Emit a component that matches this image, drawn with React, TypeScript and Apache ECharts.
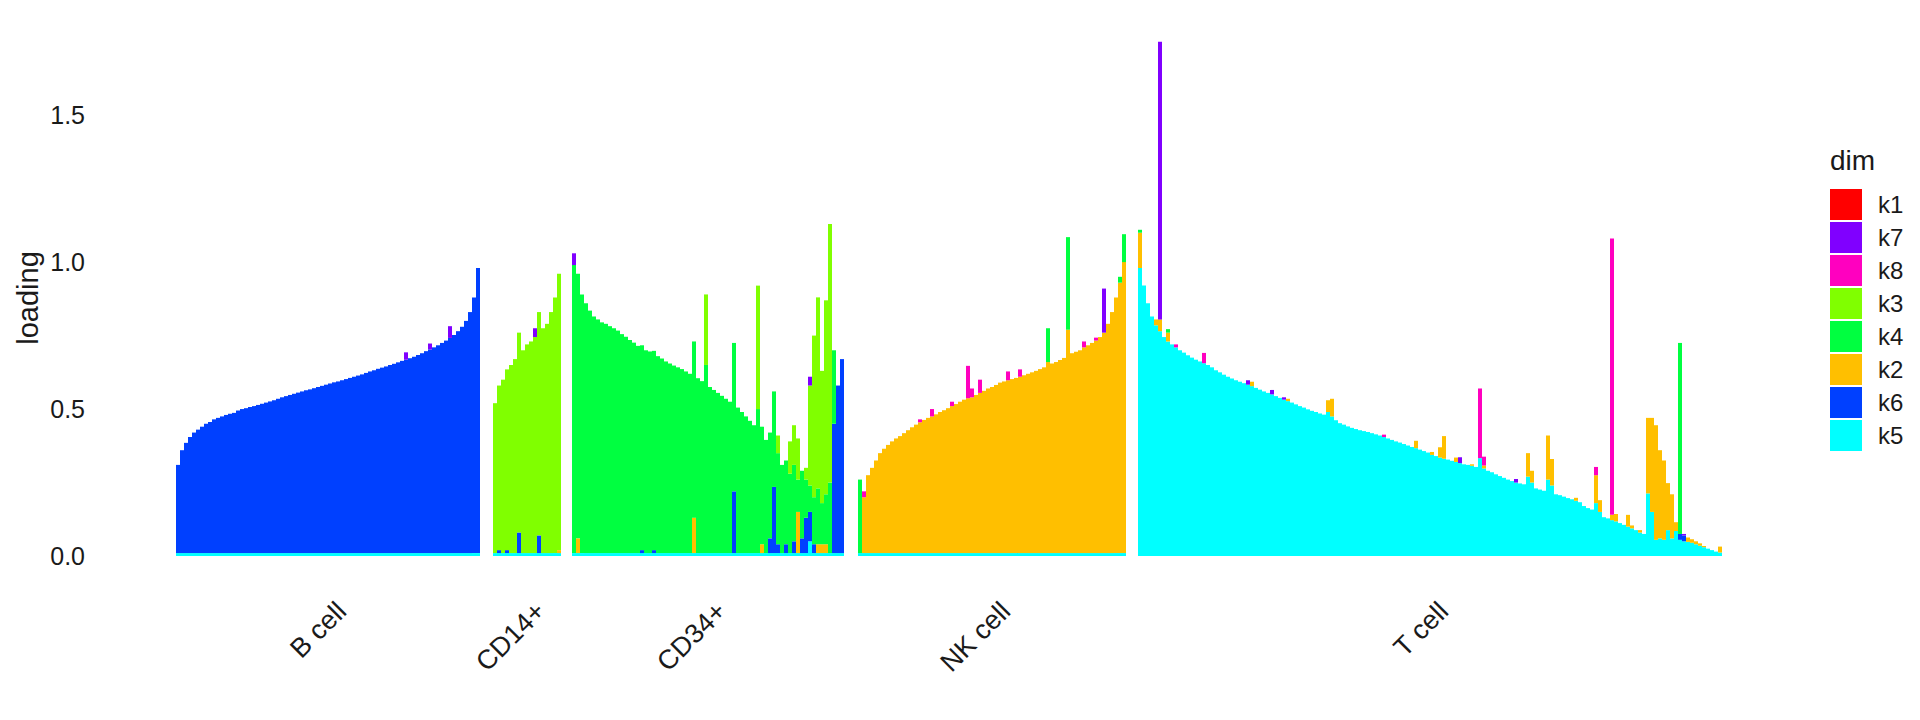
import React, { useEffect, useRef } from 'react';
import * as echarts from 'echarts';

// legend order; ggplot stacks the first level on top
const factors = ['k1', 'k7', 'k8', 'k3', 'k4', 'k2', 'k6', 'k5'];
const factorColors: Record<string, string> = {
  k1: '#FF0000',
  k7: '#8000FF',
  k8: '#FF00BF',
  k3: '#80FF00',
  k4: '#00FF40',
  k2: '#FFBF00',
  k6: '#0040FF',
  k5: '#00FFFF',
};
const cellTypes = ['B cell', 'CD14+', 'CD34+', 'NK cell', 'T cell'];
const mainFactor = ['k6', 'k3', 'k4', 'k2', 'k5'];
const yTicks = [0, 0.5, 1.0, 1.5];
const yMax = 1.8;

// thin cyan (k5) floor under every bar outside the T cell panel
const baseK5 = 0.01;

const bCellK6 = [
  0.30, 0.35, 0.375, 0.395, 0.41, 0.42, 0.43, 0.44, 0.446, 0.455,
  0.46, 0.465, 0.47, 0.474, 0.477, 0.485, 0.49, 0.493, 0.497, 0.50,
  0.504, 0.508, 0.512, 0.516, 0.52, 0.525, 0.53, 0.534, 0.538, 0.542,
  0.546, 0.55, 0.554, 0.557, 0.561, 0.565, 0.569, 0.573, 0.577, 0.581,
  0.584, 0.588, 0.592, 0.596, 0.60, 0.604, 0.608, 0.613, 0.618, 0.622,
  0.627, 0.631, 0.635, 0.64, 0.644, 0.649, 0.654, 0.658, 0.663, 0.668,
  0.674, 0.68, 0.687, 0.693, 0.70, 0.707, 0.715, 0.723, 0.732, 0.742,
  0.755, 0.77, 0.79, 0.82, 0.87, 0.97,
];
const cd14K3 = [0.51, 0.56, 0.59, 0.615, 0.64, 0.66, 0.68, 0.69, 0.71, 0.72, 0.735, 0.76, 0.765, 0.78, 0.82, 0.87, 0.94];
const cd34K4 = [
  0.98, 0.90, 0.88, 0.85, 0.825, 0.805, 0.795, 0.785, 0.78, 0.772,
  0.765, 0.757, 0.745, 0.736, 0.725, 0.716, 0.705, 0.697, 0.69, 0.686,
  0.678, 0.67, 0.662, 0.652, 0.645, 0.638, 0.632, 0.626, 0.618, 0.61,
  0.60, 0.595, 0.585, 0.64, 0.565, 0.555, 0.545, 0.535, 0.525, 0.515,
  0.505, 0.495, 0.48, 0.465, 0.45, 0.435, 0.49, 0.40, 0.385, 0.36,
  0.325, 0.31, 0.30, 0.285, 0.27, 0.26, 0.11, 0.23, 0.13, 0.09,
  0.16, 0.19, 0.14, 0.17, 0.24, 0.25, 0, 0,
];
const nkK2 = [
  0, 0.19, 0.265, 0.29, 0.315, 0.34, 0.355, 0.368, 0.38, 0.39,
  0.398, 0.408, 0.418, 0.428, 0.437, 0.445, 0.453, 0.46, 0.465, 0.472,
  0.48, 0.486, 0.493, 0.50, 0.507, 0.515, 0.522, 0.527, 0.53, 0.538,
  0.545, 0.552, 0.56, 0.565, 0.572, 0.58, 0.584, 0.588, 0.592, 0.596,
  0.60, 0.605, 0.61, 0.615, 0.62, 0.626, 0.632, 0.65, 0.645, 0.65,
  0.657, 0.664, 0.76, 0.68, 0.685, 0.69, 0.70, 0.707, 0.715, 0.723,
  0.735, 0.75, 0.78, 0.82, 0.87, 0.92, 0.99,
];
const tCellK5 = [
  0.98, 0.92, 0.86, 0.815, 0.785, 0.765, 0.745, 0.73, 0.72, 0.71,
  0.70, 0.692, 0.683, 0.675, 0.668, 0.662, 0.656, 0.65, 0.642, 0.632,
  0.625, 0.617, 0.61, 0.604, 0.598, 0.593, 0.588, 0.583, 0.578, 0.572,
  0.566, 0.56, 0.555, 0.55, 0.544, 0.538, 0.532, 0.527, 0.522, 0.516,
  0.51, 0.505, 0.499, 0.494, 0.49, 0.485, 0.481, 0.49, 0.475, 0.462,
  0.452, 0.447, 0.441, 0.436, 0.432, 0.428, 0.425, 0.422, 0.418, 0.414,
  0.41, 0.405, 0.40, 0.395, 0.39, 0.386, 0.381, 0.376, 0.371, 0.367,
  0.362, 0.357, 0.352, 0.344, 0.34, 0.335, 0.331, 0.328, 0.324, 0.32,
  0.316, 0.312, 0.31, 0.307, 0.303, 0.333, 0.298, 0.29, 0.285, 0.278,
  0.272, 0.266, 0.26, 0.255, 0.25, 0.247, 0.244, 0.27, 0.25, 0.23,
  0.226, 0.222, 0.26, 0.24, 0.21, 0.207, 0.202, 0.197, 0.193, 0.188,
  0.183, 0.17, 0.163, 0.158, 0.18, 0.15, 0.132, 0.128, 0.122, 0.118,
  0.112, 0.106, 0.10, 0.094, 0.088, 0.08, 0.075, 0.213, 0.15, 0.055,
  0.06, 0.055, 0.088, 0.06, 0.085, 0.055, 0.05, 0.048, 0.045, 0.04,
  0.035, 0.03, 0.025, 0.02, 0.015, 0.012,
];

// secondary loadings: [bar index, factor, value]
type Extra = [number, string, number];
const bCellExtra: Extra[] = [[57, 'k7', 0.025], [63, 'k7', 0.02], [68, 'k7', 0.04]];
const cd14Extra: Extra[] = [
  [1, 'k6', 0.01], [3, 'k6', 0.01], [6, 'k6', 0.07], [10, 'k7', 0.03], [11, 'k6', 0.06], [16, 'k2', 0.01],
];
const cd34Extra: Extra[] = [
  [0, 'k7', 0.04], [1, 'k2', 0.05], [17, 'k6', 0.01], [20, 'k6', 0.01], [30, 'k2', 0.12], [33, 'k3', 0.24],
  [40, 'k6', 0.21], [46, 'k3', 0.42], [47, 'k2', 0.03], [49, 'k6', 0.05], [50, 'k6', 0.225],
  [51, 'k3', 0.06], [51, 'k6', 0.03], [53, 'k6', 0.03], [54, 'k3', 0.11], [55, 'k3', 0.135],
  [55, 'k6', 0.04], [56, 'k2', 0.14], [56, 'k3', 0.14], [57, 'k6', 0.05], [58, 'k6', 0.12],
  [58, 'k3', 0.04], [59, 'k5', 0.04], [59, 'k6', 0.10], [59, 'k3', 0.34], [59, 'k7', 0.03],
  [60, 'k6', 0.03], [60, 'k3', 0.55], [61, 'k2', 0.03], [61, 'k3', 0.65], [62, 'k2', 0.03],
  [62, 'k3', 0.45], [63, 'k2', 0.03], [63, 'k3', 0.66], [64, 'k3', 0.88], [65, 'k6', 0.44],
  [66, 'k6', 0.57], [67, 'k6', 0.66],
];
const nkExtra: Extra[] = [
  [0, 'k4', 0.25], [1, 'k8', 0.02], [15, 'k8', 0.01], [18, 'k8', 0.025], [23, 'k8', 0.015],
  [27, 'k8', 0.11], [28, 'k8', 0.03], [30, 'k8', 0.045], [37, 'k8', 0.03], [40, 'k8', 0.025],
  [47, 'k4', 0.115], [52, 'k4', 0.315], [56, 'k8', 0.02], [59, 'k8', 0.01], [61, 'k7', 0.15],
  [65, 'k4', 0.02], [66, 'k4', 0.095],
];
const tCellExtra: Extra[] = [
  [0, 'k2', 0.12], [0, 'k4', 0.01], [4, 'k2', 0.02], [5, 'k2', 0.04], [5, 'k7', 0.945],
  [7, 'k2', 0.03], [7, 'k4', 0.012], [9, 'k8', 0.01], [16, 'k8', 0.035], [27, 'k7', 0.015],
  [28, 'k2', 0.015], [33, 'k7', 0.015], [36, 'k7', 0.008], [37, 'k2', 0.008], [47, 'k2', 0.04],
  [48, 'k2', 0.06], [61, 'k8', 0.008], [69, 'k2', 0.025], [73, 'k2', 0.01], [75, 'k2', 0.035],
  [76, 'k2', 0.077], [79, 'k2', 0.015], [80, 'k7', 0.02], [83, 'k2', 0.005], [85, 'k8', 0.237],
  [86, 'k8', 0.03], [86, 'k2', 0.01], [94, 'k7', 0.012], [97, 'k2', 0.08], [98, 'k2', 0.04],
  [102, 'k2', 0.15], [103, 'k2', 0.09], [109, 'k2', 0.01], [114, 'k2', 0.095], [114, 'k8', 0.028],
  [115, 'k2', 0.04], [118, 'k2', 0.018], [118, 'k8', 0.94], [119, 'k2', 0.025], [122, 'k2', 0.04],
  [123, 'k2', 0.01], [125, 'k2', 0.008], [127, 'k2', 0.257], [128, 'k2', 0.32], [129, 'k2', 0.39],
  [130, 'k2', 0.30], [131, 'k2', 0.27], [132, 'k2', 0.16], [133, 'k2', 0.15], [134, 'k2', 0.03],
  [135, 'k6', 0.02], [135, 'k4', 0.65], [136, 'k6', 0.02], [136, 'k7', 0.005], [137, 'k2', 0.015],
  [138, 'k2', 0.012], [139, 'k2', 0.01], [140, 'k2', 0.008], [141, 'k2', 0.004], [145, 'k2', 0.02],
];

const mains = [bCellK6, cd14K3, cd34K4, nkK2, tCellK5];
const extras = [bCellExtra, cd14Extra, cd34Extra, nkExtra, tCellExtra];

// layout (pixels)
const panelLeft = [176, 493, 572, 858, 1138];
const barPx = 4;
const plotTop = 27;
const plotHeight = 529;
const font = "'Liberation Sans', Arial, Helvetica, sans-serif";
const ink = '#1a1a1a';

const App: React.FC = () => {
  const chartRef = useRef<HTMLDivElement>(null);

  useEffect(() => {
    if (!chartRef.current) return undefined;
    const chart = echarts.init(chartRef.current, undefined, { renderer: 'svg' });

    const stackOrder = [...factors].reverse(); // bottom of the stack first
    const grid: any[] = [];
    const xAxis: any[] = [];
    const yAxis: any[] = [];
    const series: any[] = [];
    const graphic: any[] = [];

    cellTypes.forEach((cell, f) => {
      const n = mains[f].length;
      grid.push({ left: panelLeft[f], top: plotTop, width: n * barPx, height: plotHeight });
      xAxis.push({
        type: 'category',
        gridIndex: f,
        data: mains[f].map((_, i) => `${cell}-${i}`),
        show: false,
      });
      yAxis.push({
        type: 'value',
        gridIndex: f,
        min: 0,
        max: yMax,
        interval: 0.5,
        show: f === 0,
        axisLine: { show: false },
        axisTick: { show: false },
        splitLine: { show: false },
        axisLabel: {
          margin: 91,
          fontSize: 25,
          fontFamily: font,
          color: ink,
          formatter: (v: number) => (yTicks.some((t) => Math.abs(t - v) < 1e-6) ? v.toFixed(1) : ''),
        },
      });
      stackOrder.forEach((k) => {
        const data = mains[f].map((v, i) => {
          let y = 0;
          if (k === mainFactor[f]) y += v;
          if (k === 'k5' && mainFactor[f] !== 'k5') y += baseK5;
          extras[f].forEach(([idx, kk, val]) => {
            if (idx === i && kk === k) y += val;
          });
          return +y.toFixed(4);
        });
        series.push({
          name: k,
          type: 'bar',
          xAxisIndex: f,
          yAxisIndex: f,
          stack: `panel${f}`,
          barCategoryGap: '0%',
          silent: true,
          itemStyle: { color: factorColors[k] },
          data,
        });
      });
      graphic.push({
        type: 'text',
        x: panelLeft[f] + (n * barPx) / 2 + 4,
        y: 597,
        rotation: Math.PI / 4,
        style: {
          text: cell,
          fontSize: 27,
          fontFamily: font,
          fill: ink,
          textAlign: 'right',
          textVerticalAlign: 'top',
        },
      });
    });

    graphic.push({
      type: 'text',
      x: 28,
      y: 298,
      rotation: Math.PI / 2,
      style: {
        text: 'loading',
        fontSize: 29,
        fontFamily: font,
        fill: ink,
        textAlign: 'center',
        textVerticalAlign: 'middle',
      },
    });
    graphic.push({
      type: 'text',
      x: 1830,
      y: 160,
      style: {
        text: 'dim',
        fontSize: 28,
        fontFamily: font,
        fill: ink,
        textAlign: 'left',
        textVerticalAlign: 'middle',
      },
    });

    chart.setOption({
      animation: false,
      backgroundColor: '#ffffff',
      grid,
      xAxis,
      yAxis,
      series,
      graphic,
      legend: {
        data: factors,
        orient: 'vertical',
        left: 1830,
        top: 189,
        padding: 0,
        itemWidth: 32,
        itemHeight: 31,
        itemGap: 2,
        icon: 'rect',
        selectedMode: false,
        textStyle: { fontSize: 24, fontFamily: font, color: ink, padding: [0, 0, 0, 11] },
      },
    });

    return () => {
      chart.dispose();
    };
  }, []);

  return <div ref={chartRef} style={{ position: 'absolute', left: 0, top: 0, width: 1920, height: 720 }} />;
};

export default App;
